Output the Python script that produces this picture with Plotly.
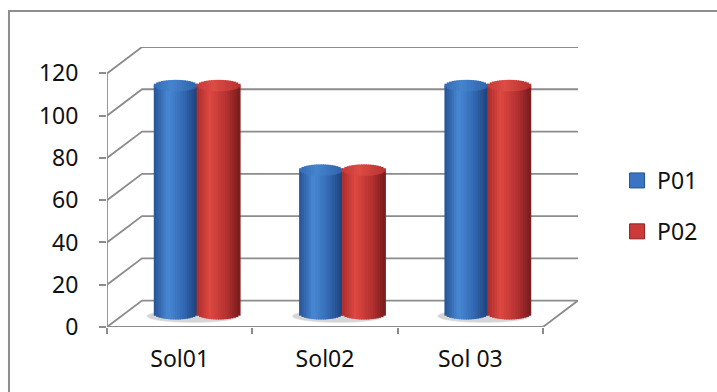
import numpy as np
import plotly.graph_objects as go

# ---- data ----
categories = ["Sol01", "Sol02", "Sol 03"]
p01 = [108, 68, 108]
p02 = [108, 68, 108]
series_names = ["P01", "P02"]
y_ticks = [0, 20, 40, 60, 80, 100, 120]

# ---- pseudo-3D box geometry (axis units) ----
DEPTH_X = 0.241      # horizontal shift of the back wall
DEPTH_Y = 12.5       # vertical shift of the back wall
CYL_W = 0.295        # cylinder diameter
CAP_B = 2.7          # half-height of the elliptical ends
N_STRIPS = 18        # vertical shading strips per cylinder

xpos = np.arange(len(categories), dtype=float)
x_left = xpos[0] - 0.5
x_right = xpos[-1] + 0.5
y_top = max(y_ticks)
mid_x = DEPTH_X / 2
mid_y = DEPTH_Y / 2

FONT = "Noto Sans"
GRID = "#8c8c8c"

# shading stops: (position across cylinder, rgb)
BODY = {
    "P01": [(0.0, (38, 82, 148)), (0.33, (72, 136, 212)), (0.7, (50, 104, 178)), (1.0, (30, 66, 124))],
    "P02": [(0.0, (168, 44, 44)), (0.3, (222, 72, 66)), (0.7, (180, 50, 48)), (1.0, (120, 28, 28))],
}
CAP = {
    "P01": [(0.0, (52, 108, 180)), (0.4, (70, 132, 206)), (1.0, (48, 100, 170))],
    "P02": [(0.0, (196, 58, 56)), (0.4, (222, 76, 70)), (1.0, (182, 50, 48))],
}
LEGEND_COL = {"P01": ("#3b74c2", "#22508e"), "P02": ("#cc3a3a", "#8a2222")}


def shade(stops, t):
    for (t0, c0), (t1, c1) in zip(stops[:-1], stops[1:]):
        if t0 <= t <= t1:
            f = (t - t0) / (t1 - t0)
            r, g, b = (round(a + (bb - a) * f) for a, bb in zip(c0, c1))
            return f"rgb({r},{g},{b})"
    r, g, b = stops[-1][1]
    return f"rgb({r},{g},{b})"


fig = go.Figure()

series = {"P01": p01, "P02": p02}
offsets = {"P01": -CYL_W / 2, "P02": CYL_W / 2}
strip_w = CYL_W / N_STRIPS

for name in series_names:
    vals = np.array(series[name], dtype=float)
    centre = xpos + mid_x + offsets[name]
    # cylinder body: each strip runs from the front arc of the base ellipse
    # up to the centre line of the top ellipse
    for k in range(N_STRIPS):
        t = (k + 0.5) / N_STRIPS
        s = np.sqrt(max(0.0, 1 - (2 * t - 1) ** 2))
        fig.add_trace(go.Bar(
            x=centre + (t - 0.5) * CYL_W,
            y=vals + CAP_B * s,
            base=[mid_y - CAP_B * s] * len(vals),
            width=strip_w * 1.45,
            marker=dict(color=shade(BODY[name], t), line=dict(width=0)),
            showlegend=False, hoverinfo="skip",
        ))
    # elliptical top cap
    for k in range(N_STRIPS):
        t = (k + 0.5) / N_STRIPS
        s = np.sqrt(max(0.0, 1 - (2 * t - 1) ** 2))
        fig.add_trace(go.Bar(
            x=centre + (t - 0.5) * CYL_W,
            y=[2 * CAP_B * s] * len(vals),
            base=vals + mid_y - CAP_B * s,
            width=strip_w * 1.45,
            marker=dict(color=shade(CAP[name], t), line=dict(width=0)),
            showlegend=False, hoverinfo="skip",
        ))

# legend entries
for name in series_names:
    fill, edge = LEGEND_COL[name]
    fig.add_trace(go.Scatter(
        x=[None], y=[None], mode="markers", name=name, legendgroup=name,
        marker=dict(symbol="square", size=15, color=fill, line=dict(color=edge, width=1)),
    ))

shapes = []
# back wall gridlines with their diagonal on the left side wall
for v in y_ticks:
    shapes.append(dict(
        type="path", layer="below",
        path=f"M {x_left},{v} L {x_left + DEPTH_X},{v + DEPTH_Y} L {x_right + DEPTH_X},{v + DEPTH_Y}",
        line=dict(color=GRID, width=1.8),
    ))
# floor front and right edges
shapes.append(dict(
    type="path", layer="below",
    path=f"M {x_left},0 L {x_right},0 L {x_right + DEPTH_X},{DEPTH_Y}",
    line=dict(color=GRID, width=1.8),
))
# front value axis
shapes.append(dict(
    type="line", layer="below", x0=x_left, x1=x_left, y0=0, y1=y_top,
    line=dict(color=GRID, width=1.8),
))
# soft floor shadows under each pair of cylinders
for xc in xpos:
    cx = xc + mid_x
    for grow, op in [(1.0, 0.10), (0.8, 0.12)]:
        shapes.append(dict(
            type="circle", layer="below",
            x0=cx - CYL_W * (1.0 + 0.12 * grow) - 0.02, x1=cx + CYL_W * (1.0 + 0.06 * grow) - 0.02,
            y0=mid_y - CAP_B * (1.0 + 0.6 * grow), y1=mid_y + CAP_B * (0.2 + 0.6 * grow),
            fillcolor=f"rgba(60,60,60,{op})", line=dict(width=0),
        ))
# chart-area frame (left and top edges)
shapes.append(dict(
    type="path", xref="paper", yref="paper",
    path="M -0.2081,-0.4 L -0.2081,1.1286 L 1.35,1.1286",
    line=dict(color="#8e8e8e", width=2),
))

fig.update_layout(
    width=717, height=392,
    margin=dict(l=107, r=139, t=47, b=65, pad=0),
    paper_bgcolor="white", plot_bgcolor="white",
    barmode="overlay",
    font=dict(family=FONT, size=23, color="#111111"),
    shapes=shapes,
    showlegend=True,
    legend=dict(
        x=1.083, xanchor="left", y=0.6, yanchor="top",
        traceorder="grouped", tracegroupgap=18,
        font=dict(family=FONT, size=23, color="#111111"),
        bgcolor="rgba(0,0,0,0)",
    ),
    xaxis=dict(
        range=[x_left, x_right + DEPTH_X],
        tickmode="array", tickvals=list(xpos), ticktext=categories,
        ticks="", showgrid=False, zeroline=False, showline=False,
        ticklabelstandoff=16,
        minor=dict(tickmode="array", tickvals=list(np.append(xpos - 0.5, xpos[-1] + 0.5)),
                   ticks="outside", ticklen=6, tickwidth=1.8, tickcolor=GRID, showgrid=False),
        fixedrange=True,
    ),
    yaxis=dict(
        range=[0, y_top + DEPTH_Y],
        tickmode="array", tickvals=y_ticks,
        ticks="outside", ticklen=7, tickwidth=1.8, tickcolor=GRID,
        showgrid=False, zeroline=False, showline=False,
        ticklabelstandoff=16,
        fixedrange=True,
    ),
)

fig.write_html("out.html")
